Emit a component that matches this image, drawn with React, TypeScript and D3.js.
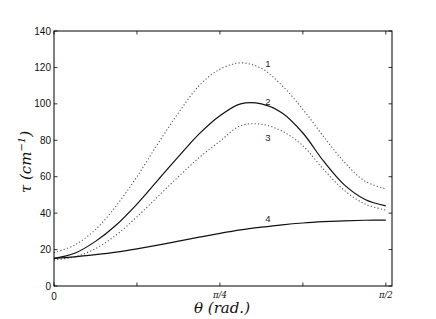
import React from "react";
import * as d3 from "d3";

const thetaSteps = [0, 1, 2, 3, 4, 5, 6, 7, 8, 9, 10, 11, 12, 13, 14, 15, 16]; // k * pi/32
const curve1 = [18.3, 22.5, 31, 44, 60, 78, 95, 110, 119, 122.5, 119.5, 110, 97, 82, 68, 57.5, 53.3];
const curve2 = [15.2, 18, 24.5, 33.5, 45, 58, 71, 83.5, 93.5, 100, 100, 95, 84, 68.5, 55.5, 47.5, 44];
const curve3 = [14.3, 16, 20.5, 28, 38, 49, 60, 70.5, 79.5, 88, 88.8, 85, 77, 64, 52.5, 45, 41.7];
const curve4 = [15.2, 16, 17.2, 18.6, 20.4, 22.4, 24.6, 26.8, 28.9, 30.8, 32.3, 33.6, 34.6, 35.3, 35.8, 36.1, 36.2];
const seriesLabels = ["1", "2", "3", "4"];
const yTicks = [0, 20, 40, 60, 80, 100, 120, 140];
const xTickK = [0, 1, 2, 3, 4]; // k * pi/8
const xTickLabels = ["0", "", "π/4", "", "π/2"];

const W = 436, H = 319;
const L = 54, R = 392, T = 31, B = 286;

export default function App() {
  const x = d3.scaleLinear().domain([0, 1.6]).range([L, R]);
  const y = d3.scaleLinear().domain([0, 140]).range([B, T]);
  const thetas = thetaSteps.map((k) => (k * Math.PI) / 32);
  const line = d3
    .line<number>()
    .x((_, i) => x(thetas[i]))
    .y((v) => y(v))
    .curve(d3.curveCatmullRom.alpha(0.5));

  const series = [
    { data: curve1, dash: "1.2,2.2", color: "#555", width: 1.1, lx: 268, lv: 122 },
    { data: curve2, dash: null, color: "#111", width: 1.2, lx: 268, lv: 101.5 },
    { data: curve3, dash: "1.2,2.2", color: "#555", width: 1.1, lx: 268, lv: 81.4 },
    { data: curve4, dash: null, color: "#111", width: 1.2, lx: 268, lv: 36.8 },
  ];

  const sans = "'Liberation Sans', Arial, sans-serif";
  const serif = "'DejaVu Serif', 'Liberation Serif', serif";

  return (
    <svg width={W} height={H} style={{ position: "absolute", left: 0, top: 0, background: "#fff" }}>
      <rect x={0} y={0} width={W} height={H} fill="#fff" />
      {series.map((s, i) => (
        <path
          key={i}
          d={line(s.data) || ""}
          fill="none"
          stroke={s.color}
          strokeWidth={s.width}
          strokeDasharray={s.dash || undefined}
        />
      ))}
      {series.map((s, i) => (
        <text
          key={"l" + i}
          x={s.lx}
          y={y(s.lv)}
          fontFamily={sans}
          fontSize={9.5}
          textAnchor="middle"
          dominantBaseline="central"
          fill="#222"
        >
          {seriesLabels[i]}
        </text>
      ))}
      <rect x={L} y={T} width={R - L} height={B - T} fill="none" stroke="#000" strokeWidth={1} />
      {yTicks.map((t) => (
        <g key={"y" + t}>
          <line x1={L} x2={L + 3.5} y1={y(t)} y2={y(t)} stroke="#000" strokeWidth={0.8} />
          <line x1={R} x2={R - 3.5} y1={y(t)} y2={y(t)} stroke="#000" strokeWidth={0.8} />
          <text x={L - 3} y={y(t)} fontFamily={sans} fontSize={10} textAnchor="end" dominantBaseline="central" fill="#111">
            {t}
          </text>
        </g>
      ))}
      {xTickK.map((k, i) => {
        const px = x((k * Math.PI) / 8);
        return (
          <g key={"x" + k}>
            <line x1={px} x2={px} y1={B} y2={B - 3.5} stroke="#000" strokeWidth={0.8} />
            <line x1={px} x2={px} y1={T} y2={T + 3.5} stroke="#000" strokeWidth={0.8} />
            {xTickLabels[i] === "0" ? (
              <text x={px} y={B + 10} fontFamily={sans} fontSize={10} textAnchor="middle" dominantBaseline="central" fill="#111">
                0
              </text>
            ) : xTickLabels[i] ? (
              <text x={px} y={B + 8.5} fontFamily={serif} fontStyle="italic" fontSize={8.5} textAnchor="middle" dominantBaseline="central" fill="#111">
                {xTickLabels[i]}
              </text>
            ) : null}
          </g>
        );
      })}
      <text x={222} y={313} fontFamily={serif} fontStyle="italic" fontSize={15} textAnchor="middle" fill="#111">
        θ (rad.)
      </text>
      <text
        transform={`translate(31,162) rotate(-90)`}
        fontFamily={serif}
        fontStyle="italic"
        fontSize={15}
        textAnchor="middle"
        fill="#111"
      >
        τ (cm<tspan fontSize={10} dy={-6}>−1</tspan><tspan dy={6}>)</tspan>
      </text>
    </svg>
  );
}
